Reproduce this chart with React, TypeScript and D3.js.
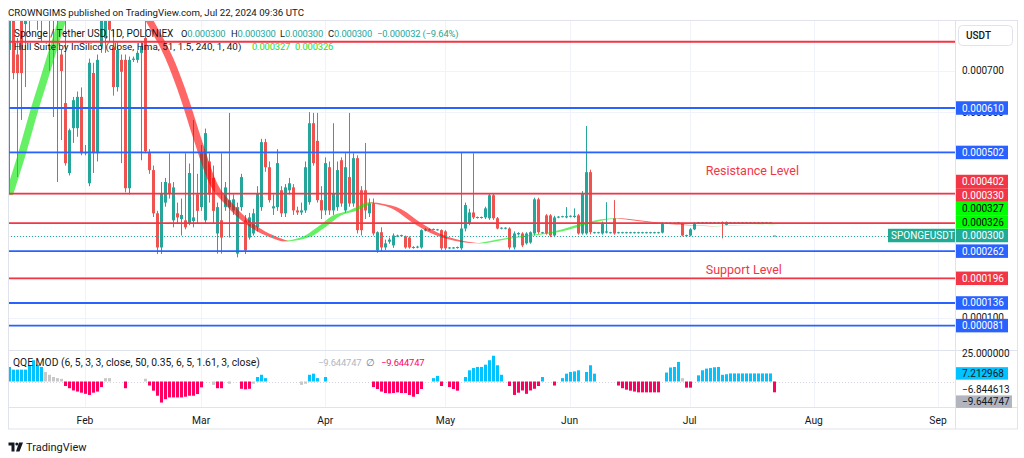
import React from "react";
import * as d3 from "d3";

// ---------- DATA (prices in micro-USDT, i.e. ×1e-6) ----------
const PRICE_UNIT = 1e-6;
const FIRST_DAY = "2024-01-13";

const opens = [
  751, 860, 740, 840, 814, 822, 900, 880, 830, 890,
  850, 860, 870, 740, 622, 452, 561, 561, 637, 500,
  427, 695, 500, 760, 780, 860, 759, 661, 727, 727,
  415, 727, 727, 744, 780, 503, 459, 354, 271, 380,
  427, 337, 354, 340, 337, 330, 335, 400, 369, 337,
  480, 440, 305, 337, 369, 369, 361, 256, 369, 337,
  295, 305, 320, 369, 527, 466, 366, 369, 410, 354,
  410, 417, 361, 356, 361, 381, 573, 530, 386, 361,
  466, 361, 369, 483, 361, 442, 378, 488, 410, 410,
  354, 378, 264, 308, 271, 285, 276, 298, 300, 298,
  295, 271, 271, 271, 312, 314, 315, 314, 313, 310,
  269, 270, 270, 269, 317, 330, 356, 343, 343, 344,
  342, 398, 342, 317, 317, 317, 271, 303, 305, 281,
  283, 305, 388, 306, 349, 349, 300, 344, 346, 344,
  346, 345, 349, 305, 305, 454, 307, 307, 305, 307,
  307, 342, 306, 307, 306, 307, 306, 307, 306, 307,
  306, 307, 306, 307, 329, 329, 330, 330, 330, 300,
  300, 315, 331, 331, 331, 331, 331, 331, 333, 326,
  331, 331, 331, 331, 331, 331, 331, 331, 331, 331,
  331, 300,
];
const highs = [
  900, 900, 780, 880, 900, 900, 940, 920, 900, 930,
  950, 950, 960, 751, 830, 560, 637, 650, 660, 520,
  730, 720, 740, 880, 900, 890, 800, 770, 740, 740,
  735, 735, 750, 770, 840, 510, 470, 360, 430, 440,
  500, 430, 380, 390, 500, 475, 581, 450, 520, 560,
  500, 470, 380, 500, 430, 598, 400, 380, 450, 350,
  355, 365, 420, 535, 535, 480, 400, 510, 420, 425,
  440, 425, 370, 380, 480, 600, 598, 598, 420, 490,
  480, 573, 480, 490, 500, 598, 500, 495, 420, 525,
  390, 390, 310, 320, 290, 295, 305, 302, 302, 300,
  298, 274, 275, 315, 318, 317, 317, 316, 315, 313,
  272, 272, 273, 503, 380, 365, 500, 346, 346, 370,
  403, 403, 345, 320, 320, 320, 310, 308, 308, 308,
  310, 392, 392, 309, 352, 352, 348, 347, 348, 369,
  349, 366, 352, 408, 566, 460, 309, 309, 334, 381,
  309, 386, 309, 309, 309, 309, 309, 309, 309, 309,
  309, 309, 309, 333, 332, 332, 332, 333, 332, 302,
  318, 333, 333, 333, 333, 333, 333, 333, 334, 334,
  333, 333, 333, 333, 333, 333, 333, 333, 333, 333,
  333, 300,
];
const lows = [
  403, 680, 442, 581, 661, 790, 830, 800, 770, 840,
  700, 588, 430, 532, 470, 446, 525, 540, 495, 495,
  420, 452, 480, 744, 744, 770, 640, 650, 476, 405,
  400, 722, 720, 483, 500, 450, 345, 255, 255, 370,
  390, 320, 330, 300, 315, 325, 320, 330, 360, 330,
  380, 330, 256, 256, 360, 295, 350, 247, 360, 255,
  290, 300, 310, 360, 455, 380, 350, 360, 345, 345,
  400, 350, 350, 350, 355, 375, 470, 380, 340, 350,
  350, 350, 360, 370, 355, 370, 370, 305, 300, 340,
  345, 300, 258, 262, 265, 280, 270, 296, 298, 268,
  268, 268, 269, 268, 310, 312, 313, 312, 265, 265,
  267, 268, 268, 265, 310, 325, 340, 341, 341, 340,
  338, 338, 315, 315, 315, 266, 266, 300, 272, 278,
  280, 300, 304, 304, 302, 296, 296, 342, 344, 342,
  344, 343, 302, 302, 302, 303, 305, 305, 302, 305,
  305, 302, 305, 305, 305, 305, 305, 305, 305, 305,
  305, 305, 305, 305, 328, 328, 329, 328, 298, 299,
  298, 313, 330, 330, 330, 330, 330, 330, 293, 325,
  331, 331, 331, 331, 331, 331, 331, 331, 331, 331,
  331, 300,
];
const closes = [
  860, 695, 695, 695, 860, 870, 860, 830, 880, 850,
  900, 910, 920, 700, 476, 556, 629, 637, 500, 503,
  720, 500, 727, 830, 860, 800, 661, 751, 698, 415,
  727, 730, 744, 760, 505, 459, 354, 271, 403, 430,
  403, 417, 344, 350, 320, 452, 344, 360, 500, 549,
  400, 360, 369, 295, 417, 386, 388, 369, 442, 264,
  344, 354, 403, 527, 466, 386, 371, 476, 354, 417,
  427, 361, 356, 361, 466, 573, 476, 386, 361, 476,
  361, 403, 459, 378, 466, 378, 488, 313, 313, 361,
  378, 305, 308, 271, 281, 290, 300, 300, 301, 271,
  271, 272, 273, 313, 315, 315, 316, 315, 269, 269,
  271, 271, 272, 317, 374, 356, 344, 345, 345, 366,
  398, 342, 317, 319, 319, 271, 305, 306, 276, 305,
  308, 388, 308, 308, 305, 300, 344, 346, 347, 347,
  348, 348, 305, 403, 454, 308, 308, 308, 330, 310,
  308, 305, 308, 308, 308, 308, 308, 308, 308, 308,
  308, 308, 308, 330, 331, 331, 331, 332, 300, 301,
  315, 330, 332, 332, 332, 332, 332, 332, 330, 333,
  332, 332, 332, 332, 332, 332, 332, 332, 332, 332,
  332, 300,
];

// Hull Suite (HMA 51) read at sample candles (index into candle arrays)
const hullIndex = [0, 3, 6, 9, 12, 15, 19, 23, 25, 27, 31, 35, 36, 40, 44, 47, 51, 55, 59, 63, 67, 69, 74, 78, 82, 86, 90, 92, 97, 102, 107, 114, 118, 123, 129, 137, 144, 150, 152, 156, 163, 170, 176, 182, 189, 191];
const hullValues = [398, 490, 593, 688, 783, 878, 971, 1012, 1025, 1010, 946, 825, 807, 732, 629, 537, 427, 376, 337, 310, 293, 286, 295.5, 320, 349, 361, 380, 378, 364, 330, 303, 284.5, 281, 290.6, 299, 310, 328.5, 340.6, 342, 338, 329.6, 325, 322.3, 325, 326, 327];

// QQE MOD histogram per candle
const qqeValues = [
  13, 10.6, 10.6, 10.6, 10.6, 14.5, 19, 15, 13,
  8.5, 6, 4, 3, 2.4,
  -4, -6, -8, -9, -10, -11, -12, -10, -9, -5,
  3, 3, 0, 0, 0,
  -6,
  0, 0, 0, 0, 2.5,
  -3.6, -8.2, -12.7, -18.8, -15.8, -14.2, -14.2, -14.2, -14.2, -13.6, -12.7, -12.7, -11.2, -5.2,
  0, 0, -3,
  -6, -6,
  0, -2, 0, 0,
  -6.5, -7, -6.5,
  -2,
  4, 6, 3,
  0, 0, 0, 0, 0, 0, 0, 0, -3, -2,
  6, 7, 3,
  0,
  4,
  0, 0, 0, 0, 0, 0, 0, 0, 0, 0, 0,
  -5, -6.7, -9, -10.3, -10.6, -10.3, -9.7, -10.3, -10.3, -12, -13.6, -11.2, -6.7,
  0, 0,
  3, 5,
  -4,
  0,
  -5, -6.7, -8.2,
  0,
  4, 10, 12, 13, 13, 15, 19, 23, 14.5, 6,
  0,
  -4, -12, -10, -8, -11, -8, -6.5, -4,
  4,
  0, 0,
  -3.6,
  0,
  3, 7, 8.5, 9, 10,
  0,
  8.5, 14.5, 7,
  0, 0, 0, 0, 0,
  -3.6, -6, -7.3, -8.2, -9, -9.7, -9.7, -9.7, -9.7, -9.7, -9.7,
  0,
  8, 12.5, 13, 17.5,
  3,
  -5.5, -5.5,
  0,
  5.5, 10, 11.5, 12, 12.7, 13, 6, 6.5,
  7.21, 7.21, 7.21, 7.21, 7.21, 7.21, 7.21, 7.21, 7.21, 7.21, 7.21,
  -9.644747,
];
// u = blue (up), d = red (down), n = gray (neutral)
const qqeState = [
  "uuuuuuuuu", "nnnnn", "dddddddddd", "nnnnn", "d", "nnnnn", "dddddddddddddd", "nnn", "dd",
  "nnnn", "ddd", "n", "uuu", "nnnnnnnnnn", "uuu", "n", "u", "nnnnnnnnnnn", "ddddddddddddd",
  "nn", "uu", "d", "n", "ddd", "n", "uuuuuuuuuu", "n", "dddddddd", "u", "nn", "d", "n",
  "uuuuu", "n", "uuu", "nnnnn", "ddddddddddd", "n", "uuuu", "n", "dd", "n",
  "uuuuuuuuuuuuuuuuuuu", "d",
].join("").split("");

// Horizontal levels drawn on the chart
const levelValues = [771, 610, 502, 402, 330, 262, 196, 136, 81];
const levelKinds = ["r", "b", "b", "r", "r", "b", "r", "b", "b"];
const levelLabelShown = [false, true, true, true, true, true, true, true, true];
const gridPrices = [100, 200, 300, 400, 500, 600, 700];
const lastPrice = 300;
const hullLegend = [327, 326];
const annotations = [
  { text: "Resistance Level", date: "2024-07-05", price: 459 },
  { text: "Support Level", date: "2024-07-05", price: 217 },
];
const qqeAxisTop = 25;
const qqeLineA = 7.212968;
const qqeLineB = -6.844613;
const qqeLast = -9.644747;

// ---------- STYLE ----------
const UP = "#26a69a";
const DOWN = "#ef5350";
const BLUE = "#2962ff";
const RED = "#f23645";
const TEXT = "#131722";
const GRID = "#f0f3fa";
const BORDER = "#e0e3eb";
const FONT = "Roboto, 'Noto Sans', sans-serif";

const PL = 8, PR = 955;
const MAIN_T = 21, MAIN_B = 349;
const QQE_T = 351, QQE_B = 407;
const AX_B = 429;

export default function App() {
  const t0 = new Date(FIRST_DAY + "T00:00:00Z");
  const dates = opens.map((_, i) => d3.utcDay.offset(t0, i));
  const x = d3.scaleUtc()
    .domain([new Date(Date.UTC(2024, 1, 1)), new Date(Date.UTC(2024, 8, 1))])
    .range([85, 938]);
  const y = d3.scaleLinear().domain([81, 610]).range([325.6, 108]);
  const yq = d3.scaleLinear().domain([0, 25]).range([381.5, 353.5]);
  const dayPx = x(d3.utcDay.offset(t0, 1)) - x(t0);
  const months = d3.utcMonth.range(new Date(Date.UTC(2024, 1, 1)), new Date(Date.UTC(2024, 8, 2)));
  const fmtMonth = d3.utcFormat("%b");
  const fmtP = (v: number) => (v * PRICE_UNIT).toFixed(6);
  const minus = (s: string) => s.replace("-", "\u2212");
  const n = closes.length;
  const chg = closes[n - 1] - closes[n - 2];
  const chgPct = (chg / closes[n - 2]) * 100;

  // Hull band runs
  const hullPts = hullIndex.map((idx, k) => ({ t: dates[idx], v: hullValues[k] }));
  const runs: { from: number; to: number; up: boolean }[] = [];
  let start = 0;
  let cur = hullPts[1].v >= hullPts[0].v;
  for (let k = 2; k < hullPts.length; k++) {
    const up = hullPts[k].v >= hullPts[k - 1].v;
    if (up !== cur) {
      runs.push({ from: start, to: k - 1, up: cur });
      start = k - 1;
      cur = up;
    }
  }
  runs.push({ from: start, to: hullPts.length - 1, up: cur });
  const lineGen = d3.line<[number, number]>().curve(d3.curveMonotoneX);
  const bandPaths = runs.map((r) => {
    const pts = hullPts.slice(r.from, r.to + 1);
    const fwd = pts.map((p) => [x(p.t) - dayPx, y(p.v)] as [number, number]);
    const bwd = pts.slice().reverse().map((p) => [x(p.t) + dayPx, y(p.v)] as [number, number]);
    const a = lineGen(fwd) || "";
    const b = (lineGen(bwd) || "").replace(/^M/, "L");
    return { d: a + b + "Z", up: r.up };
  });

  // Price-axis labels with bottom-up collision avoidance
  type Lab = { v: number; bg: string; fg: string };
  const labs: Lab[] = [];
  levelValues.forEach((v, i) => {
    if (levelLabelShown[i]) labs.push({ v, bg: levelKinds[i] === "r" ? RED : BLUE, fg: "#fff" });
  });
  hullLegend.forEach((v) => labs.push({ v, bg: "#00ff00", fg: "#000" }));
  labs.push({ v: lastPrice, bg: "#22ab94", fg: "#fff" });
  const LH = 13.5;
  const sorted = labs.map((l) => ({ ...l, ty: y(l.v) })).sort((a, b) => b.ty - a.ty || a.v - b.v);
  let prev = Infinity;
  const placed = sorted.map((l) => {
    const py = Math.min(l.ty, prev - LH);
    prev = py;
    return { ...l, py };
  });
  const lastPlaced = placed.find((p) => p.v === lastPrice && p.bg === "#22ab94")!;

  // QQE axis
  const qA = yq(qqeLineA);
  const qB = yq(qqeLineB);
  const qLast = Math.max(yq(qqeLast), qB + 12.5);

  const valStyle = { fontSize: 9.4, letterSpacing: -0.15 } as const;

  return (
    <svg width={1024} height={458} style={{ position: "absolute", left: 0, top: 0, background: "#fff" }} fontFamily={FONT}>
      <defs>
        <clipPath id="mainClip"><rect x={PL} y={MAIN_T} width={PR - PL} height={MAIN_B - MAIN_T} /></clipPath>
        <clipPath id="qqeClip"><rect x={PL} y={QQE_T} width={PR - PL} height={QQE_B - QQE_T} /></clipPath>
      </defs>
      <rect x={0} y={0} width={1024} height={458} fill="#fff" />

      {/* header */}
      <text x={8} y={15.5} fontSize={9.7} fill={TEXT}>CROWNGIMS published on TradingView.com, Jul 22, 2024 09:36 UTC</text>

      {/* grid */}
      {months.map((m, i) => (
        <line key={"vg" + i} x1={Math.round(x(m)) + 0.5} x2={Math.round(x(m)) + 0.5} y1={MAIN_T} y2={QQE_B} stroke={GRID} />
      ))}
      <g clipPath="url(#mainClip)">
        {gridPrices.map((p, i) => (
          <line key={"hg" + i} x1={PL} x2={PR} y1={Math.round(y(p)) + 0.5} y2={Math.round(y(p)) + 0.5} stroke={GRID} />
        ))}
      </g>

      {/* candles */}
      <g clipPath="url(#mainClip)">
        {dates.map((dt, i) => {
          const cx = Math.round(x(dt));
          const up = closes[i] >= opens[i];
          const col = up ? UP : DOWN;
          const yt = y(Math.max(opens[i], closes[i]));
          const yb = y(Math.min(opens[i], closes[i]));
          return (
            <g key={"c" + i}>
              <line x1={cx + 0.5} x2={cx + 0.5} y1={y(highs[i])} y2={y(lows[i])} stroke={col} strokeWidth={1} />
              <rect x={cx - 1} y={yt} width={3} height={Math.max(1, yb - yt)} fill={col} />
            </g>
          );
        })}
        {/* hull band */}
        {bandPaths.map((b, i) => (
          <path key={"hb" + i} d={b.d} fill={b.up ? "#00e600" : "#ff0000"} fillOpacity={0.6} stroke="none" />
        ))}
        {/* levels */}
        {levelValues.map((v, i) => (
          <line key={"lv" + i} x1={PL} x2={PR} y1={y(v)} y2={y(v)} stroke={levelKinds[i] === "r" ? RED : BLUE} strokeWidth={1.8} />
        ))}
        {/* last price dotted line */}
        <line x1={PL} x2={PR} y1={Math.round(y(lastPrice)) + 0.5} y2={Math.round(y(lastPrice)) + 0.5} stroke={UP} strokeDasharray="1,2" />
        {annotations.map((a, i) => (
          <text key={"an" + i} x={x(new Date(a.date + "T00:00:00Z"))} y={y(a.price) + 4.5} fontSize={12.5} fill={RED}>{a.text}</text>
        ))}
      </g>

      {/* legend main */}
      <text x={14} y={36.5} fontSize={10} fill={TEXT}>Sponge / Tether USD, 1D, POLONIEX</text>
      <text x={181} y={36.5} fill={TEXT} {...valStyle}>O<tspan fill={UP}>{fmtP(opens[n - 1])}</tspan></text>
      <text x={231} y={36.5} fill={TEXT} {...valStyle}>H<tspan fill={UP}>{fmtP(highs[n - 1])}</tspan></text>
      <text x={280} y={36.5} fill={TEXT} {...valStyle}>L<tspan fill={UP}>{fmtP(lows[n - 1])}</tspan></text>
      <text x={328} y={36.5} fill={TEXT} {...valStyle}>C<tspan fill={UP}>{fmtP(closes[n - 1])}</tspan></text>
      <text x={377} y={36.5} fill={UP} {...valStyle}>{minus(fmtP(chg))} ({minus(chgPct.toFixed(2))}%)</text>

      <text x={14} y={50} fontSize={9.9} fill={TEXT}>Hull Suite by InSilico (close, Hma, 51, 1.5, 240, 1, 40)</text>
      <text x={252} y={50} fill="#22dd22" {...valStyle}>{fmtP(hullLegend[0])}</text>
      <text x={295} y={50} fill="#22dd22" {...valStyle}>{fmtP(hullLegend[1])}</text>

      {/* QQE pane */}
      <line x1={PL} x2={PR} y1={Math.round(yq(0)) + 0.5} y2={Math.round(yq(0)) + 0.5} stroke="#d1d4dc" strokeDasharray="1,2" />
      <g clipPath="url(#qqeClip)">
        {dates.map((dt, i) => {
          const v = qqeValues[i];
          if (!v) return null;
          const cx = Math.round(x(dt));
          const st = qqeState[i];
          const col = st === "u" ? "#00c3ff" : st === "d" ? "#ff0062" : "#c8c8c8";
          const y0 = yq(0), y1 = yq(v);
          return <rect key={"q" + i} x={cx - 1} y={Math.min(y0, y1)} width={3} height={Math.abs(y1 - y0)} fill={col} />;
        })}
      </g>
      <text x={13} y={365.5} fontSize={10.3} fill={TEXT}>QQE MOD (6, 5, 3, 3, close, 50, 0.35, 6, 5, 1.61, 3, close)</text>
      <text x={318} y={365.5} fill="#b2b5be" {...valStyle}>{minus(qqeLast.toFixed(6))}</text>
      <text x={366} y={365.5} fill="#787b86" fontSize={10}>∅</text>
      <text x={381} y={365.5} fill="#ff0062" {...valStyle}>{minus(qqeLast.toFixed(6))}</text>

      {/* pane separators and frame */}
      <line x1={PL} x2={1018} y1={350.5} y2={350.5} stroke={BORDER} />
      <line x1={PL} x2={1018} y1={407.5} y2={407.5} stroke={BORDER} />
      <line x1={PR + 0.5} x2={PR + 0.5} y1={MAIN_T - 0.5} y2={AX_B} stroke={BORDER} />
      <rect x={PL + 0.5} y={20.5} width={1018 - PL - 1} height={AX_B - 20.5} fill="none" stroke={BORDER} />

      {/* price axis grid labels */}
      {gridPrices.map((p, i) => (
        <text key={"gl" + i} x={962} y={y(p) + 3.5} fontSize={10} fill={TEXT}>{fmtP(p)}</text>
      ))}
      {/* price axis boxes */}
      {placed.map((l, i) => (
        <g key={"pl" + i}>
          <rect x={956} y={l.py - LH / 2} width={52} height={LH} fill={l.bg} />
          <text x={962} y={l.py + 3.5} fontSize={10} fill={l.fg}>{fmtP(l.v)}</text>
        </g>
      ))}
      {/* symbol label */}
      <rect x={888} y={lastPlaced.py - LH / 2} width={67} height={LH} fill="#22ab94" />
      <text x={891} y={lastPlaced.py + 3.5} fontSize={10} fill="#fff">SPONGEUSDT</text>

      {/* USDT box */}
      <rect x={958.5} y={25.5} width={54} height={20} rx={4} fill="#fff" stroke={BORDER} />
      <text x={966} y={39} fontSize={10} fill={TEXT} fontWeight={500}>USDT</text>

      {/* QQE axis */}
      <text x={962} y={yq(qqeAxisTop) + 3.5} fontSize={10} fill={TEXT}>{qqeAxisTop.toFixed(6)}</text>
      <rect x={956} y={qA - 6.25} width={52} height={12.5} fill="#00c3ff" />
      <text x={962} y={qA + 3.5} fontSize={10} fill={TEXT}>{qqeLineA.toFixed(6)}</text>
      <text x={962} y={qB + 3.5} fontSize={10} fill={TEXT}>{minus(qqeLineB.toFixed(6))}</text>
      <rect x={956} y={qLast - 6.25} width={56} height={12.5} fill="#b2b5be" />
      <text x={962} y={qLast + 3.5} fontSize={10} fill={TEXT}>{minus(qqeLast.toFixed(6))}</text>

      {/* time axis */}
      {months.map((m, i) => (
        <text key={"xl" + i} x={x(m)} y={423.5} fontSize={10.3} fill={TEXT} textAnchor="middle">{fmtMonth(m)}</text>
      ))}

      {/* TradingView logo */}
      <g fill={TEXT}>
        <path d="M8.5 442.5 H14.5 V451.5 H11.5 V445.5 H8.5 Z" />
        <circle cx={16.8} cy={444} r={1.5} />
        <path d="M19 442.5 H23 L19.5 451.5 H16 Z" />
      </g>
      <text x={26} y={451} fontSize={11} fill={TEXT}>TradingView</text>
    </svg>
  );
}
